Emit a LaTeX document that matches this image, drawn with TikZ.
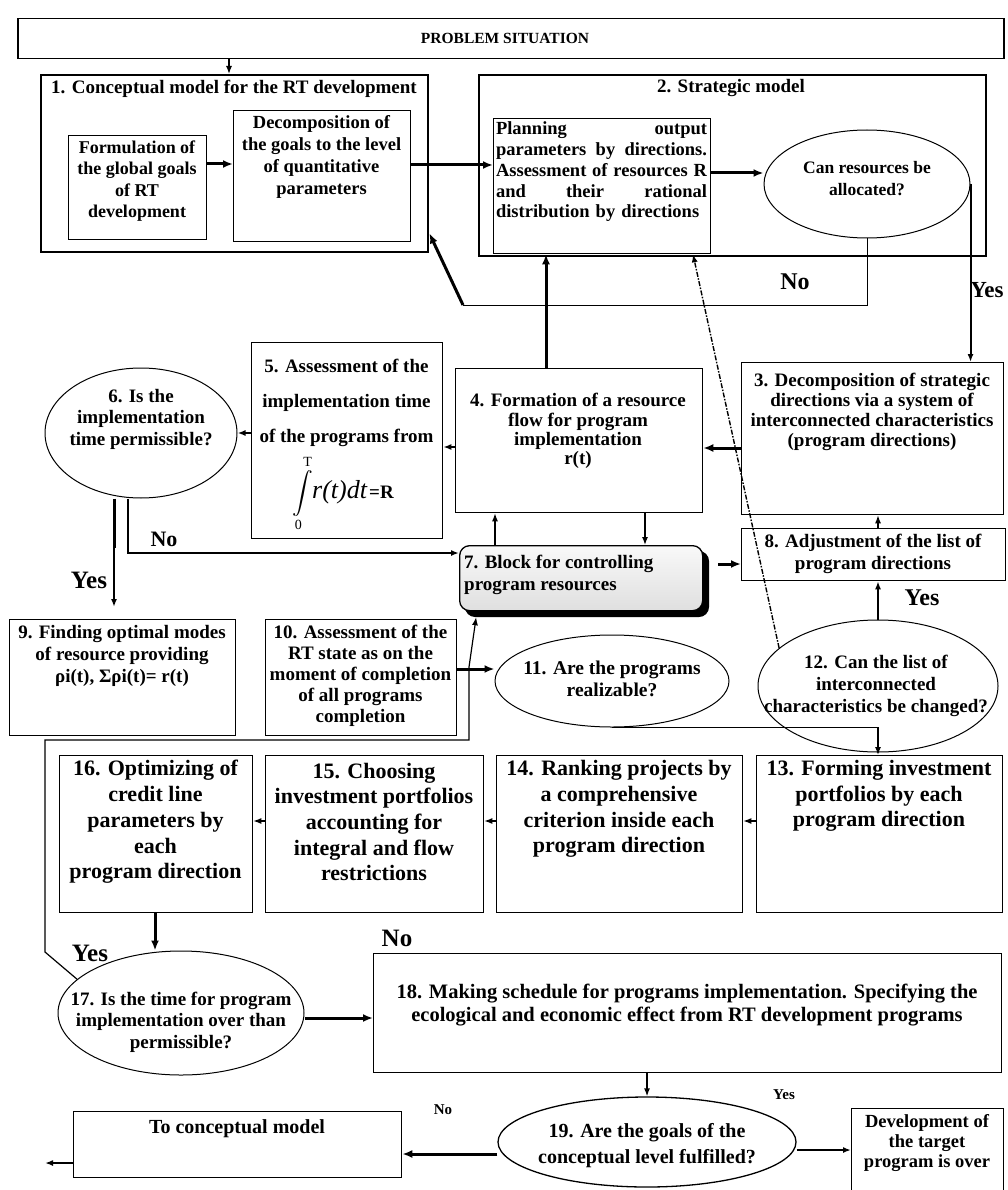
\documentclass[tikz,border=0pt]{standalone}
\usepackage{exscale}
\usepackage{fontspec}
\setmainfont{Liberation Serif}
\usetikzlibrary{arrows.meta,shapes.geometric,calc}
\tikzset{
  box/.style={draw, line width=1.3pt, inner sep=0pt, anchor=north west},
  ell/.style={draw, ellipse, line width=1pt, inner sep=0pt},
  t19/.style={inner sep=0pt, align=center, font=\bfseries\fontsize{19}{21.5}\selectfont},
  t22/.style={inner sep=0pt, align=center, font=\bfseries\fontsize{22}{25.7}\selectfont},
  lbl/.style={inner sep=0pt, font=\bfseries\fontsize{24}{24}\selectfont},
  slbl/.style={inner sep=0pt, font=\bfseries\fontsize{15}{15}\selectfont},
  arr/.style={-{Latex[length=8pt,width=6pt]}, line width=1.3pt},
  tarr/.style={-{Latex[length=10pt,width=8pt]}, line width=3pt},
  tline/.style={line width=3pt},
  fline/.style={line width=1pt},
  dashdot/.style={dash pattern=on 5pt off 1.5pt on 1.5pt off 1.5pt, line width=1.4pt}
}
\newcommand{\jline}[1]{\leavevmode\hbox to 211pt{#1}}
\begin{document}
\begin{tikzpicture}[x=1pt,y=-1pt]
\useasboundingbox (0,0) rectangle (1007,1190);
% helper coordinates
\coordinate (X45) at (45,0);   \coordinate (X114) at (114,0); \coordinate (X128) at (128,0);
\coordinate (X155) at (155,0); \coordinate (X229) at (229,0); \coordinate (X463) at (463,0);
\coordinate (X469) at (469,0); \coordinate (X477) at (477,0); \coordinate (X495) at (495,0);
\coordinate (X546) at (546,0); \coordinate (X645) at (645,0); \coordinate (X647) at (647,0);
\coordinate (X693) at (693,0); \coordinate (X878) at (878,0);
\coordinate (Y164) at (0,164); \coordinate (Y165) at (0,165); \coordinate (Y173) at (0,173);
\coordinate (Y305) at (0,305); \coordinate (Y433) at (0,433); \coordinate (Y447) at (0,447);
\coordinate (Y448) at (0,448); \coordinate (Y548) at (0,548); \coordinate (Y553) at (0,553);
\coordinate (Y564) at (0,564); \coordinate (Y667) at (0,667); \coordinate (Y669) at (0,669);
\coordinate (Y740) at (0,740); \coordinate (Y821) at (0,821); \coordinate (Y952) at (0,952);
\coordinate (Y1018) at (0,1018); \coordinate (Y1150) at (0,1150); \coordinate (Y1154) at (0,1154);
\coordinate (Y1163) at (0,1163);

% PROBLEM SITUATION
\node[box, line width=1.5pt, minimum width=986pt, minimum height=40pt] (ps) at (17,18) {};
\node[inner sep=0pt, font=\bfseries\fontsize{15.5}{16}\selectfont] (pst) at (505,38) {PROBLEM SITUATION};

% Box 1
\node[box, line width=2.4pt, minimum width=387pt, minimum height=177pt] (b1) at (40,74) {};
\node[t19] (b1t) at (234,89) {1. Conceptual model for the RT development};
\node[box, minimum width=138pt, minimum height=104pt] (f1) at (68,135) {};
\node[t19, font=\bfseries\fontsize{18}{21.3}\selectfont] (f1t) at (137,181) {Formulation of\\the global goals\\of RT\\development};
\node[box, minimum width=177pt, minimum height=131pt] (d1) at (233,110) {};
\node[t19, font=\bfseries\fontsize{18.5}{21.7}\selectfont] (d1t) at (321.5,157) {Decomposition of\\the goals to the level\\of quantitative\\parameters};

% Box 2
\node[box, line width=2.4pt, minimum width=507pt, minimum height=181pt] (b2) at (478,74) {};
\node[t19] (b2t) at (731,88) {2. Strategic model};
\node[box, minimum width=217pt, minimum height=135pt] (pl) at (493,118) {};
\node[inner sep=0pt, text width=211pt, align=left, font=\bfseries\fontsize{18.5}{20.75}\selectfont] (plt) at (601.5,172) {%
\jline{Planning\hfill output}\\
\jline{parameters\hfill by\hfill directions.}\\
\jline{Assessment\hfill of\hfill resources\hfill R}\\
\jline{and\hfill their\hfill rational}\\
distribution by directions};
\node[ell, minimum width=206pt, minimum height=108pt] (al) at (867,184) {};
\node[t19, font=\bfseries\fontsize{17.5}{22}\selectfont] (alt) at (867,179) {Can resources be\\allocated?};

% Box 3
\node[box, minimum width=262pt, minimum height=152pt] (b3) at (741,362) {};
\node[t19, font=\bfseries\fontsize{19}{20}\selectfont] (b3t) at (872,412) {3. Decomposition of strategic\\directions via a system of\\interconnected characteristics\\(program directions)};

% Box 4
\node[box, minimum width=247pt, minimum height=144pt] (b4) at (455,368) {};
\node[t19, font=\bfseries\fontsize{19}{19.3}\selectfont] (b4t) at (578,431) {4. Formation of a resource\\flow for program\\implementation\\r(t)};

% Box 5
\node[box, minimum width=191pt, minimum height=196pt] (b5) at (251,342) {};
\node[t19, font=\bfseries\fontsize{19}{35}\selectfont] (b5t) at (346.5,403) {5. Assessment of the\\implementation time\\of the programs from};
\node[inner sep=0pt] (ints) at (303,493) {\fontsize{20}{20}\selectfont$\displaystyle\int\limits_{\mathrm{0}}^{\mathrm{T}}$};
\node[inner sep=0pt, anchor=west, font=\itshape\fontsize{26}{26}\selectfont] (intr) at (312,492) {r(t)dt};
\node[inner sep=0pt, anchor=west, font=\bfseries\fontsize{19}{19}\selectfont] (intR) at (369,492) {=R};

% Ellipse 6
\node[ell, minimum width=192pt, minimum height=130pt] (e6) at (141,433) {};
\node[t19] (e6t) at (141,419) {6. Is the\\implementation\\time permissible?};

% Box 7
\fill[black, rounded corners=10pt] (465,551) rectangle (709,617);
\node[draw, line width=1.3pt, rounded corners=10pt, top color=gray!5, bottom color=gray!25,
      minimum width=243pt, minimum height=65pt, anchor=north west, inner sep=0pt] (b7) at (459,545) {};
\node[t19, align=left, anchor=west, font=\bfseries\fontsize{19}{22}\selectfont] (b7t) at (464,575) {7. Block for controlling\\program resources};

% Box 8
\node[box, minimum width=264pt, minimum height=52pt] (b8) at (741,528) {};
\node[t19] (b8t) at (873,554) {8. Adjustment of the list of\\program directions};

% Box 9
\node[box, minimum width=226pt, minimum height=116pt] (b9) at (9,619) {};
\node[t19, font=\bfseries\fontsize{19}{22}\selectfont] (b9t) at (122,656) {9. Finding optimal modes\\of resource providing\\ρi(t), Σρi(t)= r(t)};

% Box 10
\node[box, minimum width=191pt, minimum height=116pt] (b10) at (265,619) {};
\node[t19, font=\bfseries\fontsize{19}{21}\selectfont] (b10t) at (360.5,676) {10. Assessment of the\\RT state as on the\\moment of completion\\of all programs\\completion};

% Ellipse 11
\node[ell, minimum width=234pt, minimum height=92pt] (e11) at (612,681) {};
\node[t19, font=\bfseries\fontsize{19.5}{22}\selectfont] (e11t) at (612,679) {11. Are the programs\\realizable?};

% Ellipse 12
\node[ell, minimum width=240pt, minimum height=132pt] (e12) at (878,686) {};
\node[t19, font=\bfseries\fontsize{19}{22}\selectfont] (e12t) at (876,686) {12. Can the list of\\interconnected\\characteristics be changed?};

% Row 13-16
\node[box, minimum width=246pt, minimum height=157pt] (b13) at (756,755) {};
\node[t22] (b13t) at (879,796) {13. Forming investment\\portfolios by each\\program direction};
\node[box, minimum width=246pt, minimum height=157pt] (b14) at (496,755) {};
\node[t22] (b14t) at (619,809) {14. Ranking projects by\\a comprehensive\\criterion inside each\\program direction};
\node[box, minimum width=218pt, minimum height=157pt] (b15) at (265,755) {};
\node[t22] (b15t) at (374,822) {15. Choosing\\investment portfolios\\accounting for\\integral and flow\\restrictions};
\node[box, minimum width=193pt, minimum height=157pt] (b16) at (59,755) {};
\node[t22] (b16t) at (155.5,822) {16. Optimizing of\\credit line\\parameters by\\each\\program direction};

% Ellipse 17
\node[ell, minimum width=246pt, minimum height=124pt] (e17) at (181,1013) {};
\node[t19] (e17t) at (181,1022) {17. Is the time for program\\implementation over than\\permissible?};

% Box 18
\node[box, minimum width=628pt, minimum height=119pt] (b18) at (373,953) {};
\node[t19, font=\bfseries\fontsize{20.5}{22.5}\selectfont] (b18t) at (687,1005) {18. Making schedule for programs implementation. Specifying the\\ecological and economic effect from RT development programs};

% Ellipse 19
\node[ell, line width=1.3pt, minimum width=298pt, minimum height=90pt] (e19) at (647,1142) {};
\node[t19, font=\bfseries\fontsize{20}{26}\selectfont] (e19t) at (647,1146) {19. Are the goals of the\\conceptual level fulfilled?};

% To conceptual model
\node[box, minimum width=328pt, minimum height=66pt] (tc) at (73,1111) {};
\node[t19, font=\bfseries\fontsize{20}{22}\selectfont] (tct) at (237,1129) {To conceptual model};

% Development box
\node[box, minimum width=152pt, minimum height=86pt] (dev) at (851,1108) {};
\node[t19, font=\bfseries\fontsize{18.5}{20}\selectfont] (devt) at (927,1143) {Development of\\the target\\program is over};

% Labels
\node[lbl] (lno1) at (795,282) {No};
\node[lbl, font=\bfseries\fontsize{23}{23}\selectfont] (lyes1) at (987,290) {Yes};
\node[lbl, font=\bfseries\fontsize{22}{22}\selectfont] (lno6) at (164,539) {No};
\node[lbl, font=\bfseries\fontsize{25}{25}\selectfont] (lyes6) at (89,580) {Yes};
\node[lbl] (lyes12) at (922,598) {Yes};
\node[lbl, font=\bfseries\fontsize{25}{25}\selectfont] (lyes17) at (90,953) {Yes};
\node[lbl, font=\bfseries\fontsize{25}{25}\selectfont] (lno17) at (397,938) {No};
\node[slbl] (lno19) at (443,1110) {No};
\node[slbl] (lyes19) at (784,1095) {Yes};

% Connectors
\draw[arr] (ps.south -| X229) -- (b1.north -| X229);
\draw[tarr] (f1.east |- Y164) -- (d1.west |- Y164);
\draw[tarr] (d1.east |- Y165) -- (pl.west |- Y165);
\draw[tarr] (pl.east |- Y173) -- (al.west |- Y173);
\draw[arr, line width=2pt] (al.east) -- (al.east |- b3.north);
\draw[fline] (al.south) -- (al.south |- Y305) -- (X463 |- Y305);
\draw[tarr] (X463 |- Y305) -- ([yshift=20pt]b1.south east);
\draw[tarr] (b4.north -| X546) -- (pl.south -| X546);
\draw[tarr] (b3.west |- Y448) -- (b4.east |- Y448);
\draw[arr, line width=2pt] (b4.west |- Y447) -- (b5.east |- Y447);
\draw[arr, line width=2pt] (b5.west |- Y433) -- (e6.east);
\draw[arr, line width=2.4pt] (X128 |- e6.south) -- (X128 |- Y553) -- (b7.west |- Y553);
\draw[tline] (X114 |- e6.south) -- (X114 |- Y548);
\draw[arr, line width=2pt, shorten >=12pt] (X114 |- Y548) -- (b9.north -| X114);
\draw[arr] (b7.north -| X495) -- (b4.south -| X495);
\draw[arr] (b4.south -| X645) -- (b7.north -| X645);
\draw[tarr, shorten <=15pt] (b7.east |- Y564) -- (b8.west |- Y564);
\draw[arr] (b8.north -| X878) -- (b3.south -| X878);
\draw[arr, line width=2pt] (e12.north) -- (b8.south -| X878);
\draw[arr, dashdot] (e12.159) -- (pl.south -| X693);
\draw[tarr] (b10.east |- Y669) -- (e11.west |- Y669);
\draw[arr, line width=1.2pt, shorten >=6pt] (e17.162) -- (X45 |- Y952) -- (X45 |- Y740) -- (X469 |- Y740) -- (X469 |- Y667) -- (b7.south -| X477);
\draw[arr, line width=1.2pt] (e11.south) -- (e11.south -| X878) -- (b13.north -| X878);
\draw[arr] (b13.west |- Y821) -- (b14.east |- Y821);
\draw[arr] (b14.west |- Y821) -- (b15.east |- Y821);
\draw[arr] (b15.west |- Y821) -- (b16.east |- Y821);
\draw[tarr] (b16.south -| X155) -- (e17.north -| X155);
\draw[tarr] (e17.east |- Y1018) -- (b18.west |- Y1018);
\draw[arr] (b18.south -| X647) -- (e19.north);
\draw[tarr] (e19.west |- Y1154) -- (tc.east |- Y1154);
\draw[arr, line width=2pt] (tc.west |- Y1163) -- (X45 |- Y1163);
\draw[arr, line width=2.5pt] (e19.east |- Y1150) -- (dev.west |- Y1150);
\end{tikzpicture}
\end{document}
